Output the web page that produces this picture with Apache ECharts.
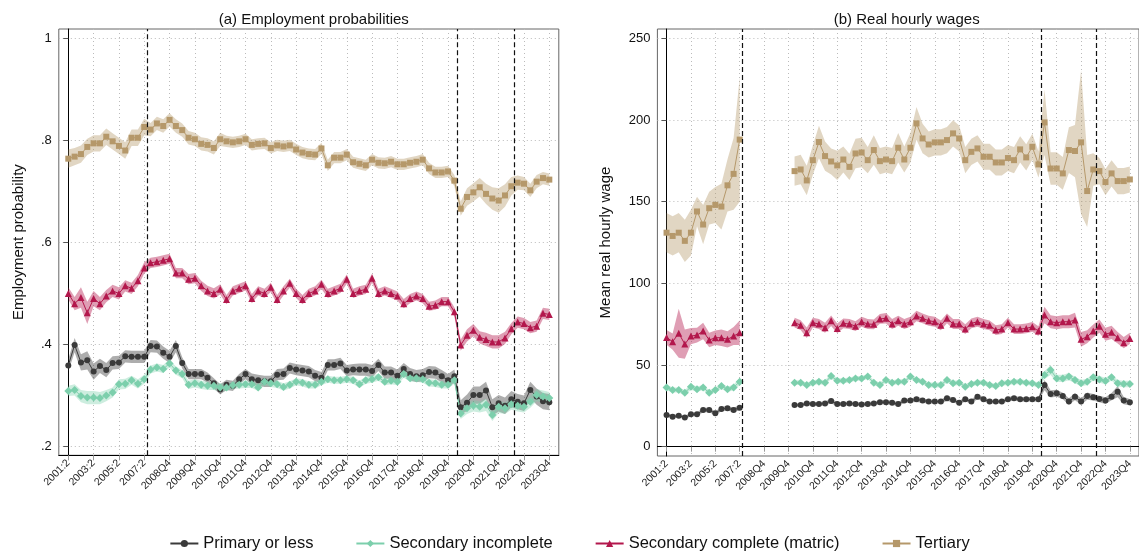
<!DOCTYPE html>
<html>
<head>
<meta charset="utf-8">
<script src="https://cdn.jsdelivr.net/npm/echarts@6/dist/echarts.min.js"></script>
<style>
  html, body { margin: 0; padding: 0; background: #fff; }
  #chart { width: 1139px; height: 554px; }
</style>
</head>
<body>
<div id="chart"></div>
<script>
// Period axis: index 0 = 2001:2 ... index 76 = 2023Q4 (biannual to 2007:2, quarterly from 2008Q1)
const tickLabels = ['2001:2', '2003:2', '2005:2', '2007:2', '2008Q4', '2009Q4', '2010Q4', '2011Q4',
  '2012Q4', '2013Q4', '2014Q4', '2015Q4', '2016Q4', '2017Q4', '2018Q4', '2019Q4', '2020Q4',
  '2021Q4', '2022Q4', '2023Q4'];
const tickIndex = [0, 4, 8, 12, 16, 20, 24, 28, 32, 36, 40, 44, 48, 52, 56, 60, 64, 68, 72, 76];
// Survey breaks (QLFS start, COVID-19, 2022 change)
const breakPositions = [12.5, 61.5, 70.5];

const groupNames = ['Primary or less', 'Secondary incomplete', 'Secondary complete (matric)', 'Tertiary'];

// (a) Employment probabilities
const empPrimary = [0.359,0.399,0.365,0.369,0.347,0.358,0.350,0.364,0.365,0.377,0.376,0.376,0.376,
  0.397,0.396,0.384,0.376,0.397,0.364,0.342,0.342,0.342,0.335,0.324,0.312,
  0.321,0.319,0.332,0.342,0.332,0.330,0.328,0.328,0.341,0.342,0.354,0.351,
  0.349,0.347,0.339,0.335,0.360,0.360,0.363,0.349,0.351,0.351,0.351,0.348,
  0.360,0.345,0.345,0.339,0.352,0.342,0.338,0.340,0.346,0.345,0.338,0.330,0.338,
  0.277,0.286,0.301,0.301,0.310,0.277,0.285,0.280,0.293,0.288,0.285,0.311,0.298,0.289,0.287];
const empPrimaryCI = [0.012,0.014,0.016,0.018,0.016,0.014,0.014,0.013,0.013,0.012,0.012,0.012,0.012,
  0.012,0.012,0.012,0.012,0.012,0.011,0.010,0.010,0.010,0.010,0.010,0.010,
  0.010,0.010,0.010,0.010,0.011,0.011,0.011,0.011,0.011,0.011,0.011,0.011,
  0.011,0.011,0.011,0.011,0.011,0.011,0.011,0.011,0.011,0.012,0.012,0.012,
  0.012,0.012,0.012,0.012,0.012,0.012,0.012,0.012,0.012,0.012,0.012,0.012,0.013,
  0.014,0.016,0.017,0.017,0.017,0.016,0.016,0.016,0.016,0.015,0.015,0.016,0.016,0.016,0.016];

const empSecInc = [0.309,0.311,0.299,0.296,0.296,0.295,0.300,0.306,0.322,0.323,0.330,0.323,0.332,
  0.351,0.355,0.352,0.363,0.349,0.342,0.321,0.324,0.321,0.319,0.319,0.316,
  0.316,0.320,0.321,0.322,0.322,0.316,0.327,0.324,0.322,0.317,0.321,0.327,
  0.325,0.321,0.321,0.327,0.332,0.330,0.330,0.332,0.330,0.322,0.330,0.332,
  0.336,0.327,0.329,0.327,0.342,0.334,0.334,0.332,0.325,0.324,0.321,0.321,0.330,
  0.265,0.275,0.280,0.278,0.282,0.262,0.278,0.275,0.283,0.280,0.278,0.288,0.301,0.298,0.295];
const empSecIncCI = [0.010,0.011,0.012,0.013,0.013,0.012,0.011,0.010,0.010,0.010,0.009,0.009,0.009,
  0.008,0.008,0.008,0.008,0.008,0.008,0.008,0.008,0.008,0.008,0.008,0.008,
  0.007,0.007,0.007,0.007,0.007,0.007,0.007,0.007,0.007,0.007,0.007,0.007,
  0.007,0.007,0.007,0.007,0.007,0.007,0.007,0.007,0.007,0.007,0.007,0.007,
  0.007,0.007,0.007,0.007,0.007,0.007,0.007,0.007,0.007,0.007,0.007,0.007,0.007,
  0.011,0.011,0.011,0.011,0.012,0.012,0.012,0.011,0.011,0.011,0.011,0.012,0.012,0.012,0.012];

const empSecComp = [0.500,0.480,0.492,0.462,0.490,0.480,0.495,0.505,0.500,0.515,0.510,0.525,0.550,
  0.560,0.562,0.565,0.568,0.540,0.540,0.528,0.530,0.515,0.505,0.500,0.508,
  0.488,0.505,0.510,0.515,0.490,0.505,0.500,0.512,0.488,0.505,0.520,0.500,
  0.488,0.500,0.505,0.518,0.500,0.505,0.510,0.528,0.500,0.505,0.508,0.530,
  0.500,0.505,0.500,0.495,0.480,0.490,0.495,0.490,0.475,0.477,0.484,0.484,0.464,
  0.399,0.418,0.428,0.414,0.410,0.405,0.405,0.413,0.431,0.444,0.441,0.433,0.436,0.461,0.459];
const empSecCompCI = [0.012,0.013,0.020,0.022,0.015,0.013,0.012,0.012,0.012,0.011,0.011,0.011,0.011,
  0.010,0.010,0.010,0.010,0.010,0.010,0.010,0.010,0.010,0.010,0.010,0.010,
  0.009,0.009,0.009,0.009,0.009,0.009,0.009,0.009,0.009,0.009,0.009,0.009,
  0.009,0.009,0.009,0.009,0.009,0.009,0.009,0.009,0.009,0.009,0.009,0.009,
  0.009,0.009,0.009,0.009,0.009,0.009,0.009,0.009,0.009,0.009,0.009,0.009,0.009,
  0.011,0.012,0.012,0.012,0.013,0.013,0.013,0.012,0.011,0.011,0.011,0.011,0.011,0.011,0.011];

const empTertiary = [0.764,0.768,0.773,0.787,0.794,0.794,0.807,0.798,0.789,0.780,0.805,0.805,0.826,
  0.821,0.833,0.828,0.840,0.828,0.820,0.805,0.802,0.793,0.791,0.785,0.802,
  0.798,0.796,0.798,0.802,0.791,0.793,0.794,0.785,0.790,0.788,0.790,0.782,
  0.776,0.773,0.772,0.784,0.751,0.766,0.766,0.772,0.757,0.754,0.751,0.762,
  0.756,0.755,0.758,0.753,0.753,0.756,0.758,0.762,0.745,0.737,0.737,0.739,0.721,
  0.666,0.689,0.698,0.708,0.695,0.686,0.682,0.692,0.710,0.717,0.715,0.702,0.719,0.726,0.723];
const empTertiaryCI = [0.018,0.017,0.017,0.016,0.016,0.016,0.016,0.016,0.016,0.016,0.016,0.016,0.016,
  0.013,0.013,0.013,0.013,0.013,0.013,0.013,0.013,0.013,0.013,0.013,0.013,
  0.011,0.011,0.011,0.011,0.011,0.011,0.011,0.011,0.011,0.011,0.011,0.011,
  0.011,0.011,0.011,0.011,0.011,0.011,0.011,0.011,0.011,0.011,0.011,0.011,
  0.011,0.011,0.011,0.011,0.011,0.011,0.011,0.011,0.011,0.011,0.011,0.011,0.011,
  0.014,0.017,0.018,0.018,0.020,0.022,0.024,0.022,0.018,0.014,0.013,0.013,0.013,0.012,0.012];

// (b) Real hourly wages (no wage data 2008Q1-2009Q4)
const wagePrimary = [19.4,18.4,19.0,17.8,19.8,19.8,22.5,22.5,20.4,23.1,23.5,22.5,23.9,
  null,null,null,null,null,null,null,null,
  25.5,25.5,26.5,26.1,26.1,26.5,28.0,26.1,26.1,26.5,26.1,
  25.9,26.1,26.5,27.2,27.2,26.9,26.1,28.2,28.2,29.0,28.2,27.6,27.6,27.6,29.6,28.6,26.9,
  29.0,27.6,30.6,29.0,27.6,27.6,27.6,29.0,29.6,29.0,29.0,29.0,29.0,
  37.7,32.3,32.7,31.0,27.6,30.6,27.6,31.0,30.2,29.2,28.2,30.6,33.7,28.2,27.2];
const wagePrimaryCI = [1.2,1.0,1.2,1.0,1.2,1.2,1.4,1.4,1.2,1.4,1.4,1.4,1.6,
  null,null,null,null,null,null,null,null,
  1.0,1.0,1.2,1.2,1.2,1.2,1.5,1.2,1.2,1.2,1.2,
  1.2,1.2,1.2,1.2,1.2,1.2,1.2,1.4,1.2,1.6,1.4,1.2,1.2,1.2,1.6,1.4,1.2,
  1.4,1.2,1.6,1.4,1.2,1.2,1.2,1.4,1.4,1.4,1.4,1.4,1.4,
  3.2,2.2,2.2,2.0,2.0,2.2,2.0,2.2,2.0,2.0,2.0,2.2,3.5,2.2,2.0];

const wageSecInc = [36.3,34.7,34.7,33.0,36.7,35.1,36.3,33.0,34.7,37.1,35.1,36.3,39.8,
  null,null,null,null,null,null,null,null,
  39.2,39.2,37.7,39.2,39.8,39.2,43.2,40.4,40.4,40.8,41.8,
  41.8,42.9,39.2,37.8,40.8,39.2,39.8,39.8,42.9,40.8,39.8,37.8,37.8,37.8,40.8,38.8,39.2,
  36.7,38.4,39.2,39.2,37.8,37.1,38.8,39.2,39.8,39.8,39.2,38.8,37.8,
  43.9,46.9,41.8,41.8,42.9,40.8,38.8,39.8,42.5,41.2,40.2,42.5,38.8,38.4,38.4];
const wageSecIncCI = [1.8,1.6,1.6,1.6,1.8,1.6,1.6,1.6,1.6,1.8,1.6,1.8,2.2,
  null,null,null,null,null,null,null,null,
  1.5,1.5,1.5,1.5,1.5,1.5,1.6,1.5,1.5,1.5,1.5,
  1.5,1.5,1.5,1.5,1.5,1.5,1.5,1.5,1.5,1.5,1.5,1.5,1.5,1.5,1.5,1.5,1.5,
  1.5,1.5,1.5,1.5,1.5,1.5,1.5,1.5,1.5,1.5,1.5,1.5,1.5,
  2.5,3.0,2.2,2.2,2.2,2.0,2.0,2.0,2.0,2.0,2.0,2.0,2.0,2.0,2.0];

const wageSecComp = [66.9,64.3,69.4,62.8,67.7,68.3,70.8,65.3,66.7,66.7,65.7,67.7,69.8,
  null,null,null,null,null,null,null,null,
  75.9,74.4,69.8,75.9,75.1,72.8,77.1,72.4,75.5,75.1,73.8,
  76.5,75.1,74.9,78.2,78.6,75.1,77.1,75.1,76.5,80.0,78.6,77.1,76.5,74.3,78.6,75.1,75.1,
  72.0,75.5,76.5,75.1,74.3,71.4,72.0,75.9,72.0,72.0,72.4,73.4,70.8,
  80.6,76.5,75.9,76.5,76.5,77.5,65.7,67.3,70.8,73.8,68.8,70.0,66.7,63.7,66.3];
const wageSecCompCI = [4.5,5.0,15.0,9.0,5.0,4.5,5.0,4.5,4.5,5.0,5.0,5.5,7.5,
  null,null,null,null,null,null,null,null,
  3.0,3.0,3.2,3.0,3.0,3.0,3.2,3.0,3.0,3.0,3.0,
  3.0,3.0,3.0,3.0,3.2,3.0,3.0,3.0,3.0,3.2,3.0,3.0,3.0,3.0,3.0,3.0,3.0,
  3.0,3.0,3.0,3.0,3.0,3.0,3.0,3.0,3.0,3.0,3.0,3.0,3.0,
  5.0,4.0,4.0,4.0,4.0,4.5,4.5,4.0,4.0,4.0,4.0,4.0,3.5,3.5,3.5];

const wageTertiary = [131,129,131,126,131,144,136,146,148,147,160,167,188,
  null,null,null,null,null,null,null,null,
  168.7,169.7,163.0,175.4,186.5,177.9,174.6,172.2,175.8,171.3,179.5,
  180.1,175.4,181.6,174.8,175.8,174.8,183.0,175.8,183.0,197.9,188.7,185.0,186.3,186.3,187.7,191.8,188.7,
  175.4,180.5,182.6,177.5,177.5,174.0,174.0,176.7,175.4,182.0,177.1,183.6,172.8,
  198.5,170.3,170.3,167.3,181.6,181.0,186.3,156.5,169.7,168.7,162.0,167.3,162.6,162.6,163.6];
const wageTertiaryCI = [12,12,12,13,14,9,12,10,11,14,16,22,38,
  null,null,null,null,null,null,null,null,
  9,9,9,9,10,9,8,9,8,8,9,
  9,8,9,8,8,8,9,8,9,10,9,8,8,8,8,8,8,
  8,8,8,8,8,8,8,8,8,8,8,8,8,
  20,10,10,10,14,16,44,22,10,8,8,8,8,8,8];

// Per-group styling
const styles = [
  { line: '#3a3a3a', band: 'rgba(60,60,60,0.42)',    symbol: 'circle',   size: 6 },
  { line: '#7ccfac', band: 'rgba(124,207,172,0.38)', symbol: 'diamond',  size: 8 },
  { line: '#b3174c', band: 'rgba(179,23,76,0.42)',   symbol: 'triangle', size: 7 },
  { line: '#b5986a', band: 'rgba(181,152,106,0.40)', symbol: 'rect',     size: 6 }
];

const panels = [
  { means: [empPrimary, empSecInc, empSecComp, empTertiary],
    cis: [empPrimaryCI, empSecIncCI, empSecCompCI, empTertiaryCI] },
  { means: [wagePrimary, wageSecInc, wageSecComp, wageTertiary],
    cis: [wagePrimaryCI, wageSecIncCI, wageSecCompCI, wageTertiaryCI] }
];

const FONT = '"Liberation Sans", Arial, Helvetica, sans-serif';

function pairs(arr) { return arr.map((v, i) => [i, v]); }

// contiguous runs of non-null values: [[start, end], ...]
function runs(arr) {
  const out = [];
  let s = null;
  arr.forEach((v, i) => {
    if (v != null && s === null) s = i;
    if ((v == null || i === arr.length - 1) && s !== null) {
      out.push([s, v == null ? i - 1 : i]);
      s = null;
    }
  });
  return out;
}

// 95% interval band drawn as one polygon per contiguous run
function bandSeries(pi, g) {
  const m = panels[pi].means[g], c = panels[pi].cis[g];
  return {
    type: 'custom', xAxisIndex: pi, yAxisIndex: pi, silent: true, z: 1,
    data: runs(m),
    encode: { x: [0, 1] },
    renderItem: (params, api) => {
      const a = api.value(0), b = api.value(1);
      const upper = [], lower = [];
      for (let i = a; i <= b; i++) {
        upper.push(api.coord([i, m[i] + c[i]]));
        lower.push(api.coord([i, m[i] - c[i]]));
      }
      return {
        type: 'polygon',
        shape: { points: upper.concat(lower.reverse()) },
        style: { fill: styles[g].band, stroke: null }
      };
    }
  };
}

const drawOrder = [3, 2, 0, 1];
const series = [];
panels.forEach((p, pi) => drawOrder.forEach(g => series.push(bandSeries(pi, g))));
panels.forEach((p, pi) => {
  drawOrder.forEach(g => {
    const s = {
      name: groupNames[g], type: 'line', xAxisIndex: pi, yAxisIndex: pi,
      data: pairs(p.means[g]),
      symbol: styles[g].symbol, symbolSize: styles[g].size,
      itemStyle: { color: styles[g].line },
      lineStyle: { color: styles[g].line, width: 1 },
      z: 3
    };
    if (g === 0) {
      s.markLine = {
        silent: true, symbol: ['none', 'none'], label: { show: false },
        lineStyle: { type: [5, 3], color: '#111', width: 1.2 },
        data: breakPositions.map(x => ({ xAxis: x }))
      };
    }
    series.push(s);
  });
});

function xAxisFor(gi) {
  return {
    type: 'value', gridIndex: gi, min: -1.5, max: 77.5,
    axisLine: { show: true, lineStyle: { color: '#000', width: 1 } },
    axisTick: { show: true, customValues: tickIndex, length: 5, lineStyle: { color: '#999' } },
    axisLabel: {
      customValues: tickIndex, rotate: 45, fontSize: 10.5, color: '#222', fontFamily: FONT, margin: 6,
      formatter: v => tickLabels[tickIndex.indexOf(Math.round(v))]
    },
    splitLine: { show: true, lineStyle: { type: [1, 3], color: '#bbb' } }
  };
}

const empTicks = [0.2, 0.4, 0.6, 0.8, 1];
const wageTicks = [0, 50, 100, 150, 200, 250];

const option = {
  animation: false,
  backgroundColor: '#fff',
  title: [
    { text: '(a) Employment probabilities', left: 308.8, top: 7, textAlign: 'center',
      textStyle: { fontSize: 15, fontWeight: 'normal', color: '#111', fontFamily: FONT } },
    { text: '(b) Real hourly wages', left: 901.7, top: 7, textAlign: 'center',
      textStyle: { fontSize: 15, fontWeight: 'normal', color: '#111', fontFamily: FONT } }
  ],
  legend: {
    data: groupNames, top: 530, left: 'center', itemWidth: 28, itemHeight: 9, itemGap: 42,
    textStyle: { fontSize: 16.5, color: '#111', fontFamily: FONT }
  },
  grid: [
    { left: 58.8, right: 580.2, top: 29, bottom: 98.7, show: true, borderColor: '#666', borderWidth: 1 },
    { left: 657.4, right: -7, top: 29, bottom: 98, show: true, borderColor: '#666', borderWidth: 1 }
  ],
  xAxis: [xAxisFor(0), xAxisFor(1)],
  yAxis: [
    { type: 'value', gridIndex: 0, min: 0.183, max: 1.018,
      name: 'Employment probability', nameLocation: 'middle', nameGap: 32,
      nameTextStyle: { fontSize: 15, color: '#111', fontFamily: FONT },
      axisLine: { show: true, lineStyle: { color: '#000' } },
      axisTick: { show: true, customValues: empTicks, length: 5, lineStyle: { color: '#555' } },
      axisLabel: { customValues: empTicks, fontSize: 13, color: '#111', fontFamily: FONT, margin: 7,
        formatter: v => v >= 0.999 ? '1' : '.' + Math.round(v * 10) },
      splitLine: { show: true, lineStyle: { type: [1, 3], color: '#bbb' } } },
    { type: 'value', gridIndex: 1, min: -5.7, max: 255.7,
      name: 'Mean real hourly wage', nameLocation: 'middle', nameGap: 44,
      nameTextStyle: { fontSize: 15, color: '#111', fontFamily: FONT },
      axisLine: { show: true, lineStyle: { color: '#000' } },
      axisTick: { show: true, customValues: wageTicks, length: 5, lineStyle: { color: '#555' } },
      axisLabel: { customValues: wageTicks, fontSize: 13, color: '#111', fontFamily: FONT, margin: 7 },
      splitLine: { show: true, lineStyle: { type: [1, 3], color: '#bbb' } } }
  ],
  series: series
};

const chart = echarts.init(document.getElementById('chart'), null, { renderer: 'canvas' });
chart.setOption(option);
</script>
</body>
</html>
